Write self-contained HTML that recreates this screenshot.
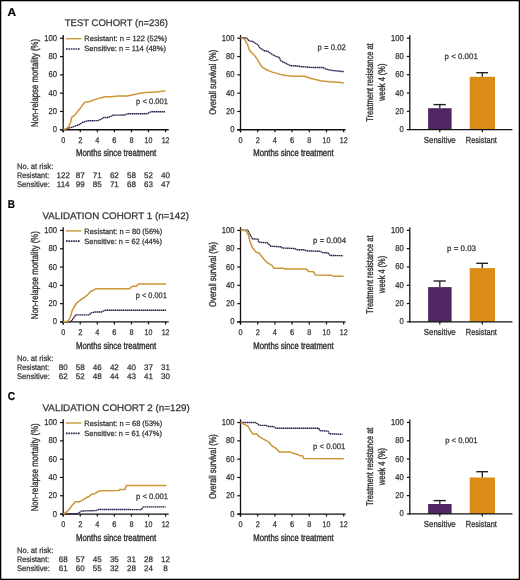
<!DOCTYPE html>
<html><head><meta charset="utf-8"><title>Figure</title>
<style>
html,body{margin:0;padding:0;background:#fff;}
body{width:520px;height:580px;overflow:hidden;}
svg{display:block;font-family:"Liberation Sans", sans-serif;filter:blur(0.3px);will-change:transform;text-rendering:geometricPrecision;}
</style></head>
<body>
<svg width="520" height="580" viewBox="0 0 520 580">
<rect x="0" y="0" width="520" height="580" fill="#fff"/>
<text x="7.40" y="16.00" font-size="11.4" textLength="8.60" lengthAdjust="spacingAndGlyphs" font-weight="bold" stroke="#000" stroke-width="0.2" fill="#000">A</text>
<text x="64.80" y="26.10" font-size="9.6" textLength="103.20" lengthAdjust="spacingAndGlyphs" stroke="#333" stroke-width="0.25" fill="#333">TEST COHORT (n=236)</text>
<line x1="66.00" y1="38.70" x2="81.50" y2="38.70" stroke="#CC9535" stroke-width="1.4"/>
<line x1="66" y1="49.00" x2="80" y2="49.00" stroke="#30204e" stroke-width="1.7" stroke-dasharray="1.6 0.8"/>
<text x="84.30" y="41.10" font-size="7.6" textLength="82.70" lengthAdjust="spacingAndGlyphs" stroke="#333" stroke-width="0.25" fill="#333">Resistant: n = 122 (52%)</text>
<text x="84.30" y="51.20" font-size="7.6" textLength="81.70" lengthAdjust="spacingAndGlyphs" stroke="#333" stroke-width="0.25" fill="#333">Sensitive: n = 114 (48%)</text>
<line x1="63.20" y1="35.00" x2="63.20" y2="132.30" stroke="#111" stroke-width="1.3"/>
<line x1="60.00" y1="129.75" x2="168.70" y2="129.75" stroke="#111" stroke-width="1.3"/>
<line x1="60.00" y1="129.75" x2="63.20" y2="129.75" stroke="#111" stroke-width="1.2"/>
<text x="57.00" y="132.25" font-size="8.5" text-anchor="end" textLength="4.25" lengthAdjust="spacingAndGlyphs" stroke="#333" stroke-width="0.25" fill="#333">0</text>
<line x1="60.00" y1="111.45" x2="63.20" y2="111.45" stroke="#111" stroke-width="1.2"/>
<text x="57.00" y="113.95" font-size="8.5" text-anchor="end" textLength="8.50" lengthAdjust="spacingAndGlyphs" stroke="#333" stroke-width="0.25" fill="#333">20</text>
<line x1="60.00" y1="93.15" x2="63.20" y2="93.15" stroke="#111" stroke-width="1.2"/>
<text x="57.00" y="95.65" font-size="8.5" text-anchor="end" textLength="8.50" lengthAdjust="spacingAndGlyphs" stroke="#333" stroke-width="0.25" fill="#333">40</text>
<line x1="60.00" y1="74.85" x2="63.20" y2="74.85" stroke="#111" stroke-width="1.2"/>
<text x="57.00" y="77.35" font-size="8.5" text-anchor="end" textLength="8.50" lengthAdjust="spacingAndGlyphs" stroke="#333" stroke-width="0.25" fill="#333">60</text>
<line x1="60.00" y1="56.55" x2="63.20" y2="56.55" stroke="#111" stroke-width="1.2"/>
<text x="57.00" y="59.05" font-size="8.5" text-anchor="end" textLength="8.50" lengthAdjust="spacingAndGlyphs" stroke="#333" stroke-width="0.25" fill="#333">80</text>
<line x1="60.00" y1="38.25" x2="63.20" y2="38.25" stroke="#111" stroke-width="1.2"/>
<text x="57.00" y="40.75" font-size="8.5" text-anchor="end" textLength="12.75" lengthAdjust="spacingAndGlyphs" stroke="#333" stroke-width="0.25" fill="#333">100</text>
<line x1="63.20" y1="129.75" x2="63.20" y2="132.30" stroke="#111" stroke-width="1.2"/>
<text x="63.20" y="142.70" font-size="8.2" text-anchor="middle" textLength="4.10" lengthAdjust="spacingAndGlyphs" stroke="#333" stroke-width="0.25" fill="#333">0</text>
<line x1="80.26" y1="129.75" x2="80.26" y2="132.30" stroke="#111" stroke-width="1.2"/>
<text x="80.26" y="142.70" font-size="8.2" text-anchor="middle" textLength="4.10" lengthAdjust="spacingAndGlyphs" stroke="#333" stroke-width="0.25" fill="#333">2</text>
<line x1="97.32" y1="129.75" x2="97.32" y2="132.30" stroke="#111" stroke-width="1.2"/>
<text x="97.32" y="142.70" font-size="8.2" text-anchor="middle" textLength="4.10" lengthAdjust="spacingAndGlyphs" stroke="#333" stroke-width="0.25" fill="#333">4</text>
<line x1="114.38" y1="129.75" x2="114.38" y2="132.30" stroke="#111" stroke-width="1.2"/>
<text x="114.38" y="142.70" font-size="8.2" text-anchor="middle" textLength="4.10" lengthAdjust="spacingAndGlyphs" stroke="#333" stroke-width="0.25" fill="#333">6</text>
<line x1="131.44" y1="129.75" x2="131.44" y2="132.30" stroke="#111" stroke-width="1.2"/>
<text x="131.44" y="142.70" font-size="8.2" text-anchor="middle" textLength="4.10" lengthAdjust="spacingAndGlyphs" stroke="#333" stroke-width="0.25" fill="#333">8</text>
<line x1="148.50" y1="129.75" x2="148.50" y2="132.30" stroke="#111" stroke-width="1.2"/>
<text x="148.50" y="142.70" font-size="8.2" text-anchor="middle" textLength="7.80" lengthAdjust="spacingAndGlyphs" stroke="#333" stroke-width="0.25" fill="#333">10</text>
<line x1="165.56" y1="129.75" x2="165.56" y2="132.30" stroke="#111" stroke-width="1.2"/>
<text x="165.56" y="142.70" font-size="8.2" text-anchor="middle" textLength="7.80" lengthAdjust="spacingAndGlyphs" stroke="#333" stroke-width="0.25" fill="#333">12</text>
<text transform="translate(37.60,83.00) rotate(-90)" font-size="9.9" text-anchor="middle" textLength="88.00" lengthAdjust="spacingAndGlyphs" stroke="#333" stroke-width="0.35" fill="#333">Non-relapse mortality (%)</text>
<line x1="240.50" y1="35.00" x2="240.50" y2="132.30" stroke="#111" stroke-width="1.3"/>
<line x1="237.30" y1="129.75" x2="345.50" y2="129.75" stroke="#111" stroke-width="1.3"/>
<line x1="237.30" y1="129.75" x2="240.50" y2="129.75" stroke="#111" stroke-width="1.2"/>
<text x="234.60" y="132.25" font-size="8.5" text-anchor="end" textLength="4.25" lengthAdjust="spacingAndGlyphs" stroke="#333" stroke-width="0.25" fill="#333">0</text>
<line x1="237.30" y1="111.45" x2="240.50" y2="111.45" stroke="#111" stroke-width="1.2"/>
<text x="234.60" y="113.95" font-size="8.5" text-anchor="end" textLength="8.50" lengthAdjust="spacingAndGlyphs" stroke="#333" stroke-width="0.25" fill="#333">20</text>
<line x1="237.30" y1="93.15" x2="240.50" y2="93.15" stroke="#111" stroke-width="1.2"/>
<text x="234.60" y="95.65" font-size="8.5" text-anchor="end" textLength="8.50" lengthAdjust="spacingAndGlyphs" stroke="#333" stroke-width="0.25" fill="#333">40</text>
<line x1="237.30" y1="74.85" x2="240.50" y2="74.85" stroke="#111" stroke-width="1.2"/>
<text x="234.60" y="77.35" font-size="8.5" text-anchor="end" textLength="8.50" lengthAdjust="spacingAndGlyphs" stroke="#333" stroke-width="0.25" fill="#333">60</text>
<line x1="237.30" y1="56.55" x2="240.50" y2="56.55" stroke="#111" stroke-width="1.2"/>
<text x="234.60" y="59.05" font-size="8.5" text-anchor="end" textLength="8.50" lengthAdjust="spacingAndGlyphs" stroke="#333" stroke-width="0.25" fill="#333">80</text>
<line x1="237.30" y1="38.25" x2="240.50" y2="38.25" stroke="#111" stroke-width="1.2"/>
<text x="234.60" y="40.75" font-size="8.5" text-anchor="end" textLength="12.75" lengthAdjust="spacingAndGlyphs" stroke="#333" stroke-width="0.25" fill="#333">100</text>
<line x1="240.50" y1="129.75" x2="240.50" y2="132.30" stroke="#111" stroke-width="1.2"/>
<text x="240.50" y="142.70" font-size="8.2" text-anchor="middle" textLength="4.10" lengthAdjust="spacingAndGlyphs" stroke="#333" stroke-width="0.25" fill="#333">0</text>
<line x1="257.70" y1="129.75" x2="257.70" y2="132.30" stroke="#111" stroke-width="1.2"/>
<text x="257.70" y="142.70" font-size="8.2" text-anchor="middle" textLength="4.10" lengthAdjust="spacingAndGlyphs" stroke="#333" stroke-width="0.25" fill="#333">2</text>
<line x1="274.90" y1="129.75" x2="274.90" y2="132.30" stroke="#111" stroke-width="1.2"/>
<text x="274.90" y="142.70" font-size="8.2" text-anchor="middle" textLength="4.10" lengthAdjust="spacingAndGlyphs" stroke="#333" stroke-width="0.25" fill="#333">4</text>
<line x1="292.10" y1="129.75" x2="292.10" y2="132.30" stroke="#111" stroke-width="1.2"/>
<text x="292.10" y="142.70" font-size="8.2" text-anchor="middle" textLength="4.10" lengthAdjust="spacingAndGlyphs" stroke="#333" stroke-width="0.25" fill="#333">6</text>
<line x1="309.30" y1="129.75" x2="309.30" y2="132.30" stroke="#111" stroke-width="1.2"/>
<text x="309.30" y="142.70" font-size="8.2" text-anchor="middle" textLength="4.10" lengthAdjust="spacingAndGlyphs" stroke="#333" stroke-width="0.25" fill="#333">8</text>
<line x1="326.50" y1="129.75" x2="326.50" y2="132.30" stroke="#111" stroke-width="1.2"/>
<text x="326.50" y="142.70" font-size="8.2" text-anchor="middle" textLength="7.80" lengthAdjust="spacingAndGlyphs" stroke="#333" stroke-width="0.25" fill="#333">10</text>
<line x1="343.70" y1="129.75" x2="343.70" y2="132.30" stroke="#111" stroke-width="1.2"/>
<text x="343.70" y="142.70" font-size="8.2" text-anchor="middle" textLength="7.80" lengthAdjust="spacingAndGlyphs" stroke="#333" stroke-width="0.25" fill="#333">12</text>
<text transform="translate(215.60,82.30) rotate(-90)" font-size="9.9" text-anchor="middle" textLength="64.90" lengthAdjust="spacingAndGlyphs" stroke="#333" stroke-width="0.35" fill="#333">Overall survival (%)</text>
<text x="76.00" y="155.90" font-size="9.8" textLength="80.20" lengthAdjust="spacingAndGlyphs" stroke="#333" stroke-width="0.4" fill="#333">Months since treatment</text>
<text x="253.20" y="155.90" font-size="9.8" textLength="80.40" lengthAdjust="spacingAndGlyphs" stroke="#333" stroke-width="0.4" fill="#333">Months since treatment</text>
<polyline points="63.30,129.60 64.60,129.50 69.90,127.70 72.40,127.10 75.50,125.80 78.60,124.90 81.10,123.30 82.40,122.40 84.80,121.80 87.30,120.80 98.00,120.60 102.10,118.70 103.80,117.50 108.50,117.50 113.00,115.20 125.00,115.00 127.30,113.80 146.90,113.80 149.20,112.50 151.50,111.80 165.40,111.80" fill="none" stroke="#30204e" stroke-width="1.4" stroke-linejoin="round" stroke-dasharray="1.6 0.4"/>
<polyline points="63.30,129.60 66.80,128.60 69.30,125.20 70.90,121.50 71.50,117.70 73.70,115.90 76.10,113.40 78.60,110.30 81.10,107.20 83.60,103.50 85.50,101.90 88.60,101.90 91.70,100.70 94.60,99.60 100.40,97.90 105.00,96.70 111.90,96.70 117.70,95.90 127.30,96.00 133.10,94.80 142.30,92.80 151.50,92.20 158.50,91.70 165.40,90.80" fill="none" stroke="#CC9535" stroke-width="1.5" stroke-linejoin="round"/>
<polyline points="240.50,37.80 245.20,37.80 247.00,38.50 249.00,40.80 253.00,41.50 255.00,43.00 258.00,44.80 259.50,47.40 261.00,48.60 264.20,50.80 267.70,51.30 271.20,53.70 275.80,56.30 279.20,57.50 281.00,60.90 286.20,63.50 290.80,65.80 295.00,65.80 301.90,66.70 312.30,67.50 322.70,67.50 326.20,69.20 331.90,70.40 342.30,71.50 343.70,71.50" fill="none" stroke="#30204e" stroke-width="1.4" stroke-linejoin="round" stroke-dasharray="1.6 0.4"/>
<polyline points="240.50,37.80 243.00,38.30 244.70,39.30 247.50,44.50 249.00,49.20 251.00,52.00 255.00,56.10 256.20,57.70 261.90,66.90 266.50,69.80 272.30,72.10 280.40,74.40 286.20,75.60 293.00,76.20 304.20,76.20 311.20,78.50 320.40,80.80 329.60,81.70 341.20,82.50 343.70,83.30" fill="none" stroke="#CC9535" stroke-width="1.5" stroke-linejoin="round"/>
<text x="136.10" y="103.70" font-size="8.0" textLength="31.90" lengthAdjust="spacingAndGlyphs" stroke="#333" stroke-width="0.25" fill="#333">p &lt; 0.001</text>
<text x="317.50" y="50.00" font-size="8.0" textLength="28.30" lengthAdjust="spacingAndGlyphs" stroke="#333" stroke-width="0.25" fill="#333">p = 0.02</text>
<text x="444.60" y="58.50" font-size="8.0" textLength="33.20" lengthAdjust="spacingAndGlyphs" stroke="#333" stroke-width="0.25" fill="#333">p &lt; 0.001</text>
<rect x="428.1" y="108.20" width="23.5" height="21.40" fill="#512663"/>
<rect x="469.7" y="76.80" width="25.3" height="52.80" fill="#DA8C16"/>
<line x1="439.80" y1="104.60" x2="439.80" y2="108.20" stroke="#222" stroke-width="1.3"/>
<line x1="433.50" y1="104.60" x2="445.80" y2="104.60" stroke="#222" stroke-width="1.4"/>
<line x1="482.30" y1="72.70" x2="482.30" y2="76.80" stroke="#222" stroke-width="1.3"/>
<line x1="476.30" y1="72.70" x2="488.00" y2="72.70" stroke="#222" stroke-width="1.4"/>
<line x1="409.80" y1="35.20" x2="409.80" y2="130.20" stroke="#111" stroke-width="1.3"/>
<line x1="409.20" y1="129.60" x2="512.40" y2="129.60" stroke="#111" stroke-width="1.3"/>
<line x1="406.80" y1="129.60" x2="409.80" y2="129.60" stroke="#111" stroke-width="1.2"/>
<text x="403.70" y="132.10" font-size="8.5" text-anchor="end" textLength="4.25" lengthAdjust="spacingAndGlyphs" stroke="#333" stroke-width="0.25" fill="#333">0</text>
<line x1="406.80" y1="111.31" x2="409.80" y2="111.31" stroke="#111" stroke-width="1.2"/>
<text x="403.70" y="113.81" font-size="8.5" text-anchor="end" textLength="8.50" lengthAdjust="spacingAndGlyphs" stroke="#333" stroke-width="0.25" fill="#333">20</text>
<line x1="406.80" y1="93.02" x2="409.80" y2="93.02" stroke="#111" stroke-width="1.2"/>
<text x="403.70" y="95.52" font-size="8.5" text-anchor="end" textLength="8.50" lengthAdjust="spacingAndGlyphs" stroke="#333" stroke-width="0.25" fill="#333">40</text>
<line x1="406.80" y1="74.73" x2="409.80" y2="74.73" stroke="#111" stroke-width="1.2"/>
<text x="403.70" y="77.23" font-size="8.5" text-anchor="end" textLength="8.50" lengthAdjust="spacingAndGlyphs" stroke="#333" stroke-width="0.25" fill="#333">60</text>
<line x1="406.80" y1="56.44" x2="409.80" y2="56.44" stroke="#111" stroke-width="1.2"/>
<text x="403.70" y="58.94" font-size="8.5" text-anchor="end" textLength="8.50" lengthAdjust="spacingAndGlyphs" stroke="#333" stroke-width="0.25" fill="#333">80</text>
<line x1="406.80" y1="38.15" x2="409.80" y2="38.15" stroke="#111" stroke-width="1.2"/>
<text x="403.70" y="40.65" font-size="8.5" text-anchor="end" textLength="12.75" lengthAdjust="spacingAndGlyphs" stroke="#333" stroke-width="0.25" fill="#333">100</text>
<line x1="439.80" y1="129.60" x2="439.80" y2="132.30" stroke="#111" stroke-width="1.2"/>
<line x1="482.30" y1="129.60" x2="482.30" y2="132.30" stroke="#111" stroke-width="1.2"/>
<text x="423.80" y="142.90" font-size="8.7" textLength="31.90" lengthAdjust="spacingAndGlyphs" stroke="#333" stroke-width="0.3" fill="#333">Sensitive</text>
<text x="465.80" y="142.90" font-size="8.7" textLength="31.10" lengthAdjust="spacingAndGlyphs" stroke="#333" stroke-width="0.3" fill="#333">Resistant</text>
<text transform="translate(373.00,82.50) rotate(-90)" font-size="9.9" text-anchor="middle" textLength="78.40" lengthAdjust="spacingAndGlyphs" stroke="#333" stroke-width="0.35" fill="#333">Treatment resistance at</text>
<text transform="translate(385.00,82.20) rotate(-90)" font-size="9.9" text-anchor="middle" textLength="37.10" lengthAdjust="spacingAndGlyphs" stroke="#333" stroke-width="0.35" fill="#333">week 4 (%)</text>
<text x="16.90" y="169.00" font-size="8.0" textLength="36.40" lengthAdjust="spacingAndGlyphs" stroke="#333" stroke-width="0.25" fill="#333">No. at risk:</text>
<text x="16.90" y="178.00" font-size="8.0" textLength="32.30" lengthAdjust="spacingAndGlyphs" stroke="#333" stroke-width="0.25" fill="#333">Resistant:</text>
<text x="16.90" y="187.00" font-size="8.0" textLength="33.10" lengthAdjust="spacingAndGlyphs" stroke="#333" stroke-width="0.25" fill="#333">Sensitive:</text>
<text x="63.20" y="178.00" font-size="8.0" text-anchor="middle" stroke="#333" stroke-width="0.25" fill="#333">122</text>
<text x="63.20" y="187.00" font-size="8.0" text-anchor="middle" stroke="#333" stroke-width="0.25" fill="#333">114</text>
<text x="80.26" y="178.00" font-size="8.0" text-anchor="middle" stroke="#333" stroke-width="0.25" fill="#333">87</text>
<text x="80.26" y="187.00" font-size="8.0" text-anchor="middle" stroke="#333" stroke-width="0.25" fill="#333">99</text>
<text x="97.32" y="178.00" font-size="8.0" text-anchor="middle" stroke="#333" stroke-width="0.25" fill="#333">71</text>
<text x="97.32" y="187.00" font-size="8.0" text-anchor="middle" stroke="#333" stroke-width="0.25" fill="#333">85</text>
<text x="114.38" y="178.00" font-size="8.0" text-anchor="middle" stroke="#333" stroke-width="0.25" fill="#333">62</text>
<text x="114.38" y="187.00" font-size="8.0" text-anchor="middle" stroke="#333" stroke-width="0.25" fill="#333">71</text>
<text x="131.44" y="178.00" font-size="8.0" text-anchor="middle" stroke="#333" stroke-width="0.25" fill="#333">58</text>
<text x="131.44" y="187.00" font-size="8.0" text-anchor="middle" stroke="#333" stroke-width="0.25" fill="#333">68</text>
<text x="148.50" y="178.00" font-size="8.0" text-anchor="middle" stroke="#333" stroke-width="0.25" fill="#333">52</text>
<text x="148.50" y="187.00" font-size="8.0" text-anchor="middle" stroke="#333" stroke-width="0.25" fill="#333">63</text>
<text x="165.56" y="178.00" font-size="8.0" text-anchor="middle" stroke="#333" stroke-width="0.25" fill="#333">40</text>
<text x="165.56" y="187.00" font-size="8.0" text-anchor="middle" stroke="#333" stroke-width="0.25" fill="#333">47</text>
<text x="7.80" y="208.20" font-size="11.4" textLength="7.20" lengthAdjust="spacingAndGlyphs" font-weight="bold" stroke="#000" stroke-width="0.2" fill="#000">B</text>
<text x="42.50" y="218.60" font-size="9.6" textLength="146.40" lengthAdjust="spacingAndGlyphs" stroke="#333" stroke-width="0.25" fill="#333">VALIDATION COHORT 1 (n=142)</text>
<line x1="66.00" y1="230.90" x2="81.50" y2="230.90" stroke="#CC9535" stroke-width="1.4"/>
<line x1="66" y1="241.20" x2="80" y2="241.20" stroke="#30204e" stroke-width="1.7" stroke-dasharray="1.6 0.8"/>
<text x="84.30" y="233.75" font-size="7.6" textLength="77.90" lengthAdjust="spacingAndGlyphs" stroke="#333" stroke-width="0.25" fill="#333">Resistant: n = 80 (56%)</text>
<text x="84.30" y="243.90" font-size="7.6" textLength="77.60" lengthAdjust="spacingAndGlyphs" stroke="#333" stroke-width="0.25" fill="#333">Sensitive: n = 62 (44%)</text>
<line x1="63.20" y1="227.20" x2="63.20" y2="324.50" stroke="#111" stroke-width="1.3"/>
<line x1="60.00" y1="321.95" x2="168.70" y2="321.95" stroke="#111" stroke-width="1.3"/>
<line x1="60.00" y1="321.95" x2="63.20" y2="321.95" stroke="#111" stroke-width="1.2"/>
<text x="57.00" y="324.45" font-size="8.5" text-anchor="end" textLength="4.25" lengthAdjust="spacingAndGlyphs" stroke="#333" stroke-width="0.25" fill="#333">0</text>
<line x1="60.00" y1="303.65" x2="63.20" y2="303.65" stroke="#111" stroke-width="1.2"/>
<text x="57.00" y="306.15" font-size="8.5" text-anchor="end" textLength="8.50" lengthAdjust="spacingAndGlyphs" stroke="#333" stroke-width="0.25" fill="#333">20</text>
<line x1="60.00" y1="285.35" x2="63.20" y2="285.35" stroke="#111" stroke-width="1.2"/>
<text x="57.00" y="287.85" font-size="8.5" text-anchor="end" textLength="8.50" lengthAdjust="spacingAndGlyphs" stroke="#333" stroke-width="0.25" fill="#333">40</text>
<line x1="60.00" y1="267.05" x2="63.20" y2="267.05" stroke="#111" stroke-width="1.2"/>
<text x="57.00" y="269.55" font-size="8.5" text-anchor="end" textLength="8.50" lengthAdjust="spacingAndGlyphs" stroke="#333" stroke-width="0.25" fill="#333">60</text>
<line x1="60.00" y1="248.75" x2="63.20" y2="248.75" stroke="#111" stroke-width="1.2"/>
<text x="57.00" y="251.25" font-size="8.5" text-anchor="end" textLength="8.50" lengthAdjust="spacingAndGlyphs" stroke="#333" stroke-width="0.25" fill="#333">80</text>
<line x1="60.00" y1="230.45" x2="63.20" y2="230.45" stroke="#111" stroke-width="1.2"/>
<text x="57.00" y="232.95" font-size="8.5" text-anchor="end" textLength="12.75" lengthAdjust="spacingAndGlyphs" stroke="#333" stroke-width="0.25" fill="#333">100</text>
<line x1="63.20" y1="321.95" x2="63.20" y2="324.50" stroke="#111" stroke-width="1.2"/>
<text x="63.20" y="334.90" font-size="8.2" text-anchor="middle" textLength="4.10" lengthAdjust="spacingAndGlyphs" stroke="#333" stroke-width="0.25" fill="#333">0</text>
<line x1="80.26" y1="321.95" x2="80.26" y2="324.50" stroke="#111" stroke-width="1.2"/>
<text x="80.26" y="334.90" font-size="8.2" text-anchor="middle" textLength="4.10" lengthAdjust="spacingAndGlyphs" stroke="#333" stroke-width="0.25" fill="#333">2</text>
<line x1="97.32" y1="321.95" x2="97.32" y2="324.50" stroke="#111" stroke-width="1.2"/>
<text x="97.32" y="334.90" font-size="8.2" text-anchor="middle" textLength="4.10" lengthAdjust="spacingAndGlyphs" stroke="#333" stroke-width="0.25" fill="#333">4</text>
<line x1="114.38" y1="321.95" x2="114.38" y2="324.50" stroke="#111" stroke-width="1.2"/>
<text x="114.38" y="334.90" font-size="8.2" text-anchor="middle" textLength="4.10" lengthAdjust="spacingAndGlyphs" stroke="#333" stroke-width="0.25" fill="#333">6</text>
<line x1="131.44" y1="321.95" x2="131.44" y2="324.50" stroke="#111" stroke-width="1.2"/>
<text x="131.44" y="334.90" font-size="8.2" text-anchor="middle" textLength="4.10" lengthAdjust="spacingAndGlyphs" stroke="#333" stroke-width="0.25" fill="#333">8</text>
<line x1="148.50" y1="321.95" x2="148.50" y2="324.50" stroke="#111" stroke-width="1.2"/>
<text x="148.50" y="334.90" font-size="8.2" text-anchor="middle" textLength="7.80" lengthAdjust="spacingAndGlyphs" stroke="#333" stroke-width="0.25" fill="#333">10</text>
<line x1="165.56" y1="321.95" x2="165.56" y2="324.50" stroke="#111" stroke-width="1.2"/>
<text x="165.56" y="334.90" font-size="8.2" text-anchor="middle" textLength="7.80" lengthAdjust="spacingAndGlyphs" stroke="#333" stroke-width="0.25" fill="#333">12</text>
<text transform="translate(37.60,275.20) rotate(-90)" font-size="9.9" text-anchor="middle" textLength="88.00" lengthAdjust="spacingAndGlyphs" stroke="#333" stroke-width="0.35" fill="#333">Non-relapse mortality (%)</text>
<line x1="240.50" y1="227.20" x2="240.50" y2="324.50" stroke="#111" stroke-width="1.3"/>
<line x1="237.30" y1="321.95" x2="345.50" y2="321.95" stroke="#111" stroke-width="1.3"/>
<line x1="237.30" y1="321.95" x2="240.50" y2="321.95" stroke="#111" stroke-width="1.2"/>
<text x="234.60" y="324.45" font-size="8.5" text-anchor="end" textLength="4.25" lengthAdjust="spacingAndGlyphs" stroke="#333" stroke-width="0.25" fill="#333">0</text>
<line x1="237.30" y1="303.65" x2="240.50" y2="303.65" stroke="#111" stroke-width="1.2"/>
<text x="234.60" y="306.15" font-size="8.5" text-anchor="end" textLength="8.50" lengthAdjust="spacingAndGlyphs" stroke="#333" stroke-width="0.25" fill="#333">20</text>
<line x1="237.30" y1="285.35" x2="240.50" y2="285.35" stroke="#111" stroke-width="1.2"/>
<text x="234.60" y="287.85" font-size="8.5" text-anchor="end" textLength="8.50" lengthAdjust="spacingAndGlyphs" stroke="#333" stroke-width="0.25" fill="#333">40</text>
<line x1="237.30" y1="267.05" x2="240.50" y2="267.05" stroke="#111" stroke-width="1.2"/>
<text x="234.60" y="269.55" font-size="8.5" text-anchor="end" textLength="8.50" lengthAdjust="spacingAndGlyphs" stroke="#333" stroke-width="0.25" fill="#333">60</text>
<line x1="237.30" y1="248.75" x2="240.50" y2="248.75" stroke="#111" stroke-width="1.2"/>
<text x="234.60" y="251.25" font-size="8.5" text-anchor="end" textLength="8.50" lengthAdjust="spacingAndGlyphs" stroke="#333" stroke-width="0.25" fill="#333">80</text>
<line x1="237.30" y1="230.45" x2="240.50" y2="230.45" stroke="#111" stroke-width="1.2"/>
<text x="234.60" y="232.95" font-size="8.5" text-anchor="end" textLength="12.75" lengthAdjust="spacingAndGlyphs" stroke="#333" stroke-width="0.25" fill="#333">100</text>
<line x1="240.50" y1="321.95" x2="240.50" y2="324.50" stroke="#111" stroke-width="1.2"/>
<text x="240.50" y="334.90" font-size="8.2" text-anchor="middle" textLength="4.10" lengthAdjust="spacingAndGlyphs" stroke="#333" stroke-width="0.25" fill="#333">0</text>
<line x1="257.70" y1="321.95" x2="257.70" y2="324.50" stroke="#111" stroke-width="1.2"/>
<text x="257.70" y="334.90" font-size="8.2" text-anchor="middle" textLength="4.10" lengthAdjust="spacingAndGlyphs" stroke="#333" stroke-width="0.25" fill="#333">2</text>
<line x1="274.90" y1="321.95" x2="274.90" y2="324.50" stroke="#111" stroke-width="1.2"/>
<text x="274.90" y="334.90" font-size="8.2" text-anchor="middle" textLength="4.10" lengthAdjust="spacingAndGlyphs" stroke="#333" stroke-width="0.25" fill="#333">4</text>
<line x1="292.10" y1="321.95" x2="292.10" y2="324.50" stroke="#111" stroke-width="1.2"/>
<text x="292.10" y="334.90" font-size="8.2" text-anchor="middle" textLength="4.10" lengthAdjust="spacingAndGlyphs" stroke="#333" stroke-width="0.25" fill="#333">6</text>
<line x1="309.30" y1="321.95" x2="309.30" y2="324.50" stroke="#111" stroke-width="1.2"/>
<text x="309.30" y="334.90" font-size="8.2" text-anchor="middle" textLength="4.10" lengthAdjust="spacingAndGlyphs" stroke="#333" stroke-width="0.25" fill="#333">8</text>
<line x1="326.50" y1="321.95" x2="326.50" y2="324.50" stroke="#111" stroke-width="1.2"/>
<text x="326.50" y="334.90" font-size="8.2" text-anchor="middle" textLength="7.80" lengthAdjust="spacingAndGlyphs" stroke="#333" stroke-width="0.25" fill="#333">10</text>
<line x1="343.70" y1="321.95" x2="343.70" y2="324.50" stroke="#111" stroke-width="1.2"/>
<text x="343.70" y="334.90" font-size="8.2" text-anchor="middle" textLength="7.80" lengthAdjust="spacingAndGlyphs" stroke="#333" stroke-width="0.25" fill="#333">12</text>
<text transform="translate(215.60,274.50) rotate(-90)" font-size="9.9" text-anchor="middle" textLength="64.90" lengthAdjust="spacingAndGlyphs" stroke="#333" stroke-width="0.35" fill="#333">Overall survival (%)</text>
<text x="76.00" y="348.50" font-size="9.8" textLength="80.20" lengthAdjust="spacingAndGlyphs" stroke="#333" stroke-width="0.4" fill="#333">Months since treatment</text>
<text x="253.20" y="348.50" font-size="9.8" textLength="80.40" lengthAdjust="spacingAndGlyphs" stroke="#333" stroke-width="0.4" fill="#333">Months since treatment</text>
<polyline points="63.20,322.00 71.00,321.60 75.70,314.90 89.10,314.90 91.10,312.90 94.90,312.00 101.40,312.00 105.50,310.20 166.00,310.20" fill="none" stroke="#30204e" stroke-width="1.4" stroke-linejoin="round" stroke-dasharray="1.6 0.4"/>
<polyline points="63.20,322.00 68.30,321.00 70.30,317.00 72.30,310.20 76.30,303.50 80.40,300.00 84.40,297.40 88.50,294.00 90.00,292.00 95.70,288.80 129.20,288.80 132.50,286.30 135.80,286.30 139.00,283.90 166.00,283.90" fill="none" stroke="#CC9535" stroke-width="1.5" stroke-linejoin="round"/>
<polyline points="240.50,230.10 247.70,230.10 250.00,234.70 252.30,238.70 258.10,239.30 258.70,242.20 267.30,242.80 270.80,246.20 281.20,246.80 282.30,248.00 294.60,248.50 296.90,249.70 304.40,249.70 306.70,250.80 320.60,251.40 322.30,252.60 328.10,252.90 330.40,255.50 343.10,255.70" fill="none" stroke="#30204e" stroke-width="1.4" stroke-linejoin="round" stroke-dasharray="1.6 0.4"/>
<polyline points="240.50,230.10 246.00,230.70 248.30,234.70 250.00,241.60 252.30,247.40 255.80,252.00 259.20,253.20 262.70,257.80 266.20,261.80 271.90,265.30 273.70,268.20 283.50,268.20 284.60,269.10 306.20,269.10 309.00,271.60 313.70,271.80 315.40,275.10 331.50,275.30 333.30,276.20 343.70,276.20" fill="none" stroke="#CC9535" stroke-width="1.5" stroke-linejoin="round"/>
<text x="135.80" y="298.40" font-size="8.0" textLength="31.00" lengthAdjust="spacingAndGlyphs" stroke="#333" stroke-width="0.25" fill="#333">p &lt; 0.001</text>
<text x="313.10" y="242.60" font-size="8.0" textLength="32.90" lengthAdjust="spacingAndGlyphs" stroke="#333" stroke-width="0.25" fill="#333">p = 0.004</text>
<text x="447.00" y="251.00" font-size="8.0" textLength="29.00" lengthAdjust="spacingAndGlyphs" stroke="#333" stroke-width="0.25" fill="#333">p = 0.03</text>
<rect x="428.1" y="287.10" width="23.5" height="34.70" fill="#512663"/>
<rect x="469.7" y="268.10" width="25.3" height="53.70" fill="#DA8C16"/>
<line x1="439.80" y1="281.00" x2="439.80" y2="287.10" stroke="#222" stroke-width="1.3"/>
<line x1="433.50" y1="281.00" x2="445.80" y2="281.00" stroke="#222" stroke-width="1.4"/>
<line x1="482.30" y1="263.30" x2="482.30" y2="268.10" stroke="#222" stroke-width="1.3"/>
<line x1="476.30" y1="263.30" x2="488.00" y2="263.30" stroke="#222" stroke-width="1.4"/>
<line x1="409.80" y1="227.40" x2="409.80" y2="322.40" stroke="#111" stroke-width="1.3"/>
<line x1="409.20" y1="321.80" x2="512.40" y2="321.80" stroke="#111" stroke-width="1.3"/>
<line x1="406.80" y1="321.80" x2="409.80" y2="321.80" stroke="#111" stroke-width="1.2"/>
<text x="403.70" y="324.30" font-size="8.5" text-anchor="end" textLength="4.25" lengthAdjust="spacingAndGlyphs" stroke="#333" stroke-width="0.25" fill="#333">0</text>
<line x1="406.80" y1="303.51" x2="409.80" y2="303.51" stroke="#111" stroke-width="1.2"/>
<text x="403.70" y="306.01" font-size="8.5" text-anchor="end" textLength="8.50" lengthAdjust="spacingAndGlyphs" stroke="#333" stroke-width="0.25" fill="#333">20</text>
<line x1="406.80" y1="285.22" x2="409.80" y2="285.22" stroke="#111" stroke-width="1.2"/>
<text x="403.70" y="287.72" font-size="8.5" text-anchor="end" textLength="8.50" lengthAdjust="spacingAndGlyphs" stroke="#333" stroke-width="0.25" fill="#333">40</text>
<line x1="406.80" y1="266.93" x2="409.80" y2="266.93" stroke="#111" stroke-width="1.2"/>
<text x="403.70" y="269.43" font-size="8.5" text-anchor="end" textLength="8.50" lengthAdjust="spacingAndGlyphs" stroke="#333" stroke-width="0.25" fill="#333">60</text>
<line x1="406.80" y1="248.64" x2="409.80" y2="248.64" stroke="#111" stroke-width="1.2"/>
<text x="403.70" y="251.14" font-size="8.5" text-anchor="end" textLength="8.50" lengthAdjust="spacingAndGlyphs" stroke="#333" stroke-width="0.25" fill="#333">80</text>
<line x1="406.80" y1="230.35" x2="409.80" y2="230.35" stroke="#111" stroke-width="1.2"/>
<text x="403.70" y="232.85" font-size="8.5" text-anchor="end" textLength="12.75" lengthAdjust="spacingAndGlyphs" stroke="#333" stroke-width="0.25" fill="#333">100</text>
<line x1="439.80" y1="321.80" x2="439.80" y2="324.50" stroke="#111" stroke-width="1.2"/>
<line x1="482.30" y1="321.80" x2="482.30" y2="324.50" stroke="#111" stroke-width="1.2"/>
<text x="423.80" y="335.10" font-size="8.7" textLength="31.90" lengthAdjust="spacingAndGlyphs" stroke="#333" stroke-width="0.3" fill="#333">Sensitive</text>
<text x="465.80" y="335.10" font-size="8.7" textLength="31.10" lengthAdjust="spacingAndGlyphs" stroke="#333" stroke-width="0.3" fill="#333">Resistant</text>
<text transform="translate(373.00,274.70) rotate(-90)" font-size="9.9" text-anchor="middle" textLength="78.40" lengthAdjust="spacingAndGlyphs" stroke="#333" stroke-width="0.35" fill="#333">Treatment resistance at</text>
<text transform="translate(385.00,274.40) rotate(-90)" font-size="9.9" text-anchor="middle" textLength="37.10" lengthAdjust="spacingAndGlyphs" stroke="#333" stroke-width="0.35" fill="#333">week 4 (%)</text>
<text x="16.90" y="361.20" font-size="8.0" textLength="36.40" lengthAdjust="spacingAndGlyphs" stroke="#333" stroke-width="0.25" fill="#333">No. at risk:</text>
<text x="16.90" y="370.20" font-size="8.0" textLength="32.30" lengthAdjust="spacingAndGlyphs" stroke="#333" stroke-width="0.25" fill="#333">Resistant:</text>
<text x="16.90" y="379.20" font-size="8.0" textLength="33.10" lengthAdjust="spacingAndGlyphs" stroke="#333" stroke-width="0.25" fill="#333">Sensitive:</text>
<text x="63.20" y="370.20" font-size="8.0" text-anchor="middle" stroke="#333" stroke-width="0.25" fill="#333">80</text>
<text x="63.20" y="379.20" font-size="8.0" text-anchor="middle" stroke="#333" stroke-width="0.25" fill="#333">62</text>
<text x="80.26" y="370.20" font-size="8.0" text-anchor="middle" stroke="#333" stroke-width="0.25" fill="#333">58</text>
<text x="80.26" y="379.20" font-size="8.0" text-anchor="middle" stroke="#333" stroke-width="0.25" fill="#333">52</text>
<text x="97.32" y="370.20" font-size="8.0" text-anchor="middle" stroke="#333" stroke-width="0.25" fill="#333">46</text>
<text x="97.32" y="379.20" font-size="8.0" text-anchor="middle" stroke="#333" stroke-width="0.25" fill="#333">48</text>
<text x="114.38" y="370.20" font-size="8.0" text-anchor="middle" stroke="#333" stroke-width="0.25" fill="#333">42</text>
<text x="114.38" y="379.20" font-size="8.0" text-anchor="middle" stroke="#333" stroke-width="0.25" fill="#333">44</text>
<text x="131.44" y="370.20" font-size="8.0" text-anchor="middle" stroke="#333" stroke-width="0.25" fill="#333">40</text>
<text x="131.44" y="379.20" font-size="8.0" text-anchor="middle" stroke="#333" stroke-width="0.25" fill="#333">43</text>
<text x="148.50" y="370.20" font-size="8.0" text-anchor="middle" stroke="#333" stroke-width="0.25" fill="#333">37</text>
<text x="148.50" y="379.20" font-size="8.0" text-anchor="middle" stroke="#333" stroke-width="0.25" fill="#333">41</text>
<text x="165.56" y="370.20" font-size="8.0" text-anchor="middle" stroke="#333" stroke-width="0.25" fill="#333">31</text>
<text x="165.56" y="379.20" font-size="8.0" text-anchor="middle" stroke="#333" stroke-width="0.25" fill="#333">30</text>
<text x="7.80" y="400.30" font-size="11.4" textLength="7.30" lengthAdjust="spacingAndGlyphs" font-weight="bold" stroke="#000" stroke-width="0.2" fill="#000">C</text>
<text x="42.50" y="411.00" font-size="9.6" textLength="147.30" lengthAdjust="spacingAndGlyphs" stroke="#333" stroke-width="0.25" fill="#333">VALIDATION COHORT 2 (n=129)</text>
<line x1="66.00" y1="423.00" x2="81.50" y2="423.00" stroke="#CC9535" stroke-width="1.4"/>
<line x1="66" y1="433.30" x2="80" y2="433.30" stroke="#30204e" stroke-width="1.7" stroke-dasharray="1.6 0.8"/>
<text x="84.30" y="425.70" font-size="7.6" textLength="77.90" lengthAdjust="spacingAndGlyphs" stroke="#333" stroke-width="0.25" fill="#333">Resistant: n = 68 (53%)</text>
<text x="84.30" y="435.80" font-size="7.6" textLength="77.60" lengthAdjust="spacingAndGlyphs" stroke="#333" stroke-width="0.25" fill="#333">Sensitive: n = 61 (47%)</text>
<line x1="63.20" y1="419.30" x2="63.20" y2="516.60" stroke="#111" stroke-width="1.3"/>
<line x1="60.00" y1="514.05" x2="168.70" y2="514.05" stroke="#111" stroke-width="1.3"/>
<line x1="60.00" y1="514.05" x2="63.20" y2="514.05" stroke="#111" stroke-width="1.2"/>
<text x="57.00" y="516.55" font-size="8.5" text-anchor="end" textLength="4.25" lengthAdjust="spacingAndGlyphs" stroke="#333" stroke-width="0.25" fill="#333">0</text>
<line x1="60.00" y1="495.75" x2="63.20" y2="495.75" stroke="#111" stroke-width="1.2"/>
<text x="57.00" y="498.25" font-size="8.5" text-anchor="end" textLength="8.50" lengthAdjust="spacingAndGlyphs" stroke="#333" stroke-width="0.25" fill="#333">20</text>
<line x1="60.00" y1="477.45" x2="63.20" y2="477.45" stroke="#111" stroke-width="1.2"/>
<text x="57.00" y="479.95" font-size="8.5" text-anchor="end" textLength="8.50" lengthAdjust="spacingAndGlyphs" stroke="#333" stroke-width="0.25" fill="#333">40</text>
<line x1="60.00" y1="459.15" x2="63.20" y2="459.15" stroke="#111" stroke-width="1.2"/>
<text x="57.00" y="461.65" font-size="8.5" text-anchor="end" textLength="8.50" lengthAdjust="spacingAndGlyphs" stroke="#333" stroke-width="0.25" fill="#333">60</text>
<line x1="60.00" y1="440.85" x2="63.20" y2="440.85" stroke="#111" stroke-width="1.2"/>
<text x="57.00" y="443.35" font-size="8.5" text-anchor="end" textLength="8.50" lengthAdjust="spacingAndGlyphs" stroke="#333" stroke-width="0.25" fill="#333">80</text>
<line x1="60.00" y1="422.55" x2="63.20" y2="422.55" stroke="#111" stroke-width="1.2"/>
<text x="57.00" y="425.05" font-size="8.5" text-anchor="end" textLength="12.75" lengthAdjust="spacingAndGlyphs" stroke="#333" stroke-width="0.25" fill="#333">100</text>
<line x1="63.20" y1="514.05" x2="63.20" y2="516.60" stroke="#111" stroke-width="1.2"/>
<text x="63.20" y="527.00" font-size="8.2" text-anchor="middle" textLength="4.10" lengthAdjust="spacingAndGlyphs" stroke="#333" stroke-width="0.25" fill="#333">0</text>
<line x1="80.26" y1="514.05" x2="80.26" y2="516.60" stroke="#111" stroke-width="1.2"/>
<text x="80.26" y="527.00" font-size="8.2" text-anchor="middle" textLength="4.10" lengthAdjust="spacingAndGlyphs" stroke="#333" stroke-width="0.25" fill="#333">2</text>
<line x1="97.32" y1="514.05" x2="97.32" y2="516.60" stroke="#111" stroke-width="1.2"/>
<text x="97.32" y="527.00" font-size="8.2" text-anchor="middle" textLength="4.10" lengthAdjust="spacingAndGlyphs" stroke="#333" stroke-width="0.25" fill="#333">4</text>
<line x1="114.38" y1="514.05" x2="114.38" y2="516.60" stroke="#111" stroke-width="1.2"/>
<text x="114.38" y="527.00" font-size="8.2" text-anchor="middle" textLength="4.10" lengthAdjust="spacingAndGlyphs" stroke="#333" stroke-width="0.25" fill="#333">6</text>
<line x1="131.44" y1="514.05" x2="131.44" y2="516.60" stroke="#111" stroke-width="1.2"/>
<text x="131.44" y="527.00" font-size="8.2" text-anchor="middle" textLength="4.10" lengthAdjust="spacingAndGlyphs" stroke="#333" stroke-width="0.25" fill="#333">8</text>
<line x1="148.50" y1="514.05" x2="148.50" y2="516.60" stroke="#111" stroke-width="1.2"/>
<text x="148.50" y="527.00" font-size="8.2" text-anchor="middle" textLength="7.80" lengthAdjust="spacingAndGlyphs" stroke="#333" stroke-width="0.25" fill="#333">10</text>
<line x1="165.56" y1="514.05" x2="165.56" y2="516.60" stroke="#111" stroke-width="1.2"/>
<text x="165.56" y="527.00" font-size="8.2" text-anchor="middle" textLength="7.80" lengthAdjust="spacingAndGlyphs" stroke="#333" stroke-width="0.25" fill="#333">12</text>
<text transform="translate(37.60,467.30) rotate(-90)" font-size="9.9" text-anchor="middle" textLength="88.00" lengthAdjust="spacingAndGlyphs" stroke="#333" stroke-width="0.35" fill="#333">Non-relapse mortality (%)</text>
<line x1="240.50" y1="419.30" x2="240.50" y2="516.60" stroke="#111" stroke-width="1.3"/>
<line x1="237.30" y1="514.05" x2="345.50" y2="514.05" stroke="#111" stroke-width="1.3"/>
<line x1="237.30" y1="514.05" x2="240.50" y2="514.05" stroke="#111" stroke-width="1.2"/>
<text x="234.60" y="516.55" font-size="8.5" text-anchor="end" textLength="4.25" lengthAdjust="spacingAndGlyphs" stroke="#333" stroke-width="0.25" fill="#333">0</text>
<line x1="237.30" y1="495.75" x2="240.50" y2="495.75" stroke="#111" stroke-width="1.2"/>
<text x="234.60" y="498.25" font-size="8.5" text-anchor="end" textLength="8.50" lengthAdjust="spacingAndGlyphs" stroke="#333" stroke-width="0.25" fill="#333">20</text>
<line x1="237.30" y1="477.45" x2="240.50" y2="477.45" stroke="#111" stroke-width="1.2"/>
<text x="234.60" y="479.95" font-size="8.5" text-anchor="end" textLength="8.50" lengthAdjust="spacingAndGlyphs" stroke="#333" stroke-width="0.25" fill="#333">40</text>
<line x1="237.30" y1="459.15" x2="240.50" y2="459.15" stroke="#111" stroke-width="1.2"/>
<text x="234.60" y="461.65" font-size="8.5" text-anchor="end" textLength="8.50" lengthAdjust="spacingAndGlyphs" stroke="#333" stroke-width="0.25" fill="#333">60</text>
<line x1="237.30" y1="440.85" x2="240.50" y2="440.85" stroke="#111" stroke-width="1.2"/>
<text x="234.60" y="443.35" font-size="8.5" text-anchor="end" textLength="8.50" lengthAdjust="spacingAndGlyphs" stroke="#333" stroke-width="0.25" fill="#333">80</text>
<line x1="237.30" y1="422.55" x2="240.50" y2="422.55" stroke="#111" stroke-width="1.2"/>
<text x="234.60" y="425.05" font-size="8.5" text-anchor="end" textLength="12.75" lengthAdjust="spacingAndGlyphs" stroke="#333" stroke-width="0.25" fill="#333">100</text>
<line x1="240.50" y1="514.05" x2="240.50" y2="516.60" stroke="#111" stroke-width="1.2"/>
<text x="240.50" y="527.00" font-size="8.2" text-anchor="middle" textLength="4.10" lengthAdjust="spacingAndGlyphs" stroke="#333" stroke-width="0.25" fill="#333">0</text>
<line x1="257.70" y1="514.05" x2="257.70" y2="516.60" stroke="#111" stroke-width="1.2"/>
<text x="257.70" y="527.00" font-size="8.2" text-anchor="middle" textLength="4.10" lengthAdjust="spacingAndGlyphs" stroke="#333" stroke-width="0.25" fill="#333">2</text>
<line x1="274.90" y1="514.05" x2="274.90" y2="516.60" stroke="#111" stroke-width="1.2"/>
<text x="274.90" y="527.00" font-size="8.2" text-anchor="middle" textLength="4.10" lengthAdjust="spacingAndGlyphs" stroke="#333" stroke-width="0.25" fill="#333">4</text>
<line x1="292.10" y1="514.05" x2="292.10" y2="516.60" stroke="#111" stroke-width="1.2"/>
<text x="292.10" y="527.00" font-size="8.2" text-anchor="middle" textLength="4.10" lengthAdjust="spacingAndGlyphs" stroke="#333" stroke-width="0.25" fill="#333">6</text>
<line x1="309.30" y1="514.05" x2="309.30" y2="516.60" stroke="#111" stroke-width="1.2"/>
<text x="309.30" y="527.00" font-size="8.2" text-anchor="middle" textLength="4.10" lengthAdjust="spacingAndGlyphs" stroke="#333" stroke-width="0.25" fill="#333">8</text>
<line x1="326.50" y1="514.05" x2="326.50" y2="516.60" stroke="#111" stroke-width="1.2"/>
<text x="326.50" y="527.00" font-size="8.2" text-anchor="middle" textLength="7.80" lengthAdjust="spacingAndGlyphs" stroke="#333" stroke-width="0.25" fill="#333">10</text>
<line x1="343.70" y1="514.05" x2="343.70" y2="516.60" stroke="#111" stroke-width="1.2"/>
<text x="343.70" y="527.00" font-size="8.2" text-anchor="middle" textLength="7.80" lengthAdjust="spacingAndGlyphs" stroke="#333" stroke-width="0.25" fill="#333">12</text>
<text transform="translate(215.60,466.60) rotate(-90)" font-size="9.9" text-anchor="middle" textLength="64.90" lengthAdjust="spacingAndGlyphs" stroke="#333" stroke-width="0.35" fill="#333">Overall survival (%)</text>
<text x="76.00" y="540.50" font-size="9.8" textLength="80.20" lengthAdjust="spacingAndGlyphs" stroke="#333" stroke-width="0.4" fill="#333">Months since treatment</text>
<text x="253.20" y="540.50" font-size="9.8" textLength="80.40" lengthAdjust="spacingAndGlyphs" stroke="#333" stroke-width="0.4" fill="#333">Months since treatment</text>
<polyline points="63.10,513.80 76.90,513.80 79.20,512.70 81.50,511.00 96.50,510.60 97.70,509.50 141.25,509.60 143.10,506.90 165.60,506.90" fill="none" stroke="#30204e" stroke-width="1.4" stroke-linejoin="round" stroke-dasharray="1.6 0.4"/>
<polyline points="63.30,514.00 66.00,512.50 69.00,509.80 72.00,505.50 74.80,502.30 75.80,501.70 79.20,501.70 81.50,500.90 83.80,499.40 86.20,497.70 88.50,496.80 91.90,494.20 94.80,493.70 98.30,491.30 101.20,490.80 118.75,490.60 120.00,489.40 125.00,489.40 126.25,485.60 166.25,485.60" fill="none" stroke="#CC9535" stroke-width="1.5" stroke-linejoin="round"/>
<polyline points="240.50,422.50 255.20,422.50 258.10,424.20 259.80,425.40 266.20,425.40 268.50,426.50 273.10,426.50 276.50,428.30 318.80,428.30 320.00,430.60 328.10,431.20 329.20,433.70 342.50,434.40" fill="none" stroke="#30204e" stroke-width="1.4" stroke-linejoin="round" stroke-dasharray="1.6 0.4"/>
<polyline points="240.50,422.50 244.20,424.20 248.30,426.50 250.00,430.00 252.90,434.00 256.90,434.00 258.70,436.30 262.70,438.70 266.20,440.60 269.00,442.10 271.90,445.90 276.00,448.50 279.40,451.90 290.40,451.90 292.30,453.10 296.90,454.20 299.20,455.40 302.70,456.00 303.80,458.60 343.70,458.80" fill="none" stroke="#CC9535" stroke-width="1.5" stroke-linejoin="round"/>
<text x="136.00" y="499.00" font-size="8.0" textLength="32.10" lengthAdjust="spacingAndGlyphs" stroke="#333" stroke-width="0.25" fill="#333">p &lt; 0.001</text>
<text x="313.10" y="448.80" font-size="8.0" textLength="32.30" lengthAdjust="spacingAndGlyphs" stroke="#333" stroke-width="0.25" fill="#333">p &lt; 0.001</text>
<text x="445.20" y="443.20" font-size="8.0" textLength="32.30" lengthAdjust="spacingAndGlyphs" stroke="#333" stroke-width="0.25" fill="#333">p &lt; 0.001</text>
<rect x="428.1" y="504.00" width="23.5" height="9.90" fill="#512663"/>
<rect x="469.7" y="477.50" width="25.3" height="36.40" fill="#DA8C16"/>
<line x1="439.80" y1="500.60" x2="439.80" y2="504.00" stroke="#222" stroke-width="1.3"/>
<line x1="433.50" y1="500.60" x2="445.80" y2="500.60" stroke="#222" stroke-width="1.4"/>
<line x1="482.30" y1="471.70" x2="482.30" y2="477.50" stroke="#222" stroke-width="1.3"/>
<line x1="476.30" y1="471.70" x2="488.00" y2="471.70" stroke="#222" stroke-width="1.4"/>
<line x1="409.80" y1="419.50" x2="409.80" y2="514.50" stroke="#111" stroke-width="1.3"/>
<line x1="409.20" y1="513.90" x2="512.40" y2="513.90" stroke="#111" stroke-width="1.3"/>
<line x1="406.80" y1="513.90" x2="409.80" y2="513.90" stroke="#111" stroke-width="1.2"/>
<text x="403.70" y="516.40" font-size="8.5" text-anchor="end" textLength="4.25" lengthAdjust="spacingAndGlyphs" stroke="#333" stroke-width="0.25" fill="#333">0</text>
<line x1="406.80" y1="495.61" x2="409.80" y2="495.61" stroke="#111" stroke-width="1.2"/>
<text x="403.70" y="498.11" font-size="8.5" text-anchor="end" textLength="8.50" lengthAdjust="spacingAndGlyphs" stroke="#333" stroke-width="0.25" fill="#333">20</text>
<line x1="406.80" y1="477.32" x2="409.80" y2="477.32" stroke="#111" stroke-width="1.2"/>
<text x="403.70" y="479.82" font-size="8.5" text-anchor="end" textLength="8.50" lengthAdjust="spacingAndGlyphs" stroke="#333" stroke-width="0.25" fill="#333">40</text>
<line x1="406.80" y1="459.03" x2="409.80" y2="459.03" stroke="#111" stroke-width="1.2"/>
<text x="403.70" y="461.53" font-size="8.5" text-anchor="end" textLength="8.50" lengthAdjust="spacingAndGlyphs" stroke="#333" stroke-width="0.25" fill="#333">60</text>
<line x1="406.80" y1="440.74" x2="409.80" y2="440.74" stroke="#111" stroke-width="1.2"/>
<text x="403.70" y="443.24" font-size="8.5" text-anchor="end" textLength="8.50" lengthAdjust="spacingAndGlyphs" stroke="#333" stroke-width="0.25" fill="#333">80</text>
<line x1="406.80" y1="422.45" x2="409.80" y2="422.45" stroke="#111" stroke-width="1.2"/>
<text x="403.70" y="424.95" font-size="8.5" text-anchor="end" textLength="12.75" lengthAdjust="spacingAndGlyphs" stroke="#333" stroke-width="0.25" fill="#333">100</text>
<line x1="439.80" y1="513.90" x2="439.80" y2="516.60" stroke="#111" stroke-width="1.2"/>
<line x1="482.30" y1="513.90" x2="482.30" y2="516.60" stroke="#111" stroke-width="1.2"/>
<text x="423.80" y="527.20" font-size="8.7" textLength="31.90" lengthAdjust="spacingAndGlyphs" stroke="#333" stroke-width="0.3" fill="#333">Sensitive</text>
<text x="465.80" y="527.20" font-size="8.7" textLength="31.10" lengthAdjust="spacingAndGlyphs" stroke="#333" stroke-width="0.3" fill="#333">Resistant</text>
<text transform="translate(373.00,466.80) rotate(-90)" font-size="9.9" text-anchor="middle" textLength="78.40" lengthAdjust="spacingAndGlyphs" stroke="#333" stroke-width="0.35" fill="#333">Treatment resistance at</text>
<text transform="translate(385.00,466.50) rotate(-90)" font-size="9.9" text-anchor="middle" textLength="37.10" lengthAdjust="spacingAndGlyphs" stroke="#333" stroke-width="0.35" fill="#333">week 4 (%)</text>
<text x="16.90" y="553.30" font-size="8.0" textLength="36.40" lengthAdjust="spacingAndGlyphs" stroke="#333" stroke-width="0.25" fill="#333">No. at risk:</text>
<text x="16.90" y="562.30" font-size="8.0" textLength="32.30" lengthAdjust="spacingAndGlyphs" stroke="#333" stroke-width="0.25" fill="#333">Resistant:</text>
<text x="16.90" y="571.30" font-size="8.0" textLength="33.10" lengthAdjust="spacingAndGlyphs" stroke="#333" stroke-width="0.25" fill="#333">Sensitive:</text>
<text x="63.20" y="562.30" font-size="8.0" text-anchor="middle" stroke="#333" stroke-width="0.25" fill="#333">68</text>
<text x="63.20" y="571.30" font-size="8.0" text-anchor="middle" stroke="#333" stroke-width="0.25" fill="#333">61</text>
<text x="80.26" y="562.30" font-size="8.0" text-anchor="middle" stroke="#333" stroke-width="0.25" fill="#333">57</text>
<text x="80.26" y="571.30" font-size="8.0" text-anchor="middle" stroke="#333" stroke-width="0.25" fill="#333">60</text>
<text x="97.32" y="562.30" font-size="8.0" text-anchor="middle" stroke="#333" stroke-width="0.25" fill="#333">45</text>
<text x="97.32" y="571.30" font-size="8.0" text-anchor="middle" stroke="#333" stroke-width="0.25" fill="#333">55</text>
<text x="114.38" y="562.30" font-size="8.0" text-anchor="middle" stroke="#333" stroke-width="0.25" fill="#333">35</text>
<text x="114.38" y="571.30" font-size="8.0" text-anchor="middle" stroke="#333" stroke-width="0.25" fill="#333">32</text>
<text x="131.44" y="562.30" font-size="8.0" text-anchor="middle" stroke="#333" stroke-width="0.25" fill="#333">31</text>
<text x="131.44" y="571.30" font-size="8.0" text-anchor="middle" stroke="#333" stroke-width="0.25" fill="#333">28</text>
<text x="148.50" y="562.30" font-size="8.0" text-anchor="middle" stroke="#333" stroke-width="0.25" fill="#333">28</text>
<text x="148.50" y="571.30" font-size="8.0" text-anchor="middle" stroke="#333" stroke-width="0.25" fill="#333">24</text>
<text x="165.56" y="562.30" font-size="8.0" text-anchor="middle" stroke="#333" stroke-width="0.25" fill="#333">12</text>
<text x="165.56" y="571.30" font-size="8.0" text-anchor="middle" stroke="#333" stroke-width="0.25" fill="#333">8</text>
<rect x="0.65" y="0.65" width="518.7" height="578.7" fill="none" stroke="#000" stroke-width="1.3"/>
</svg>
</body></html>
